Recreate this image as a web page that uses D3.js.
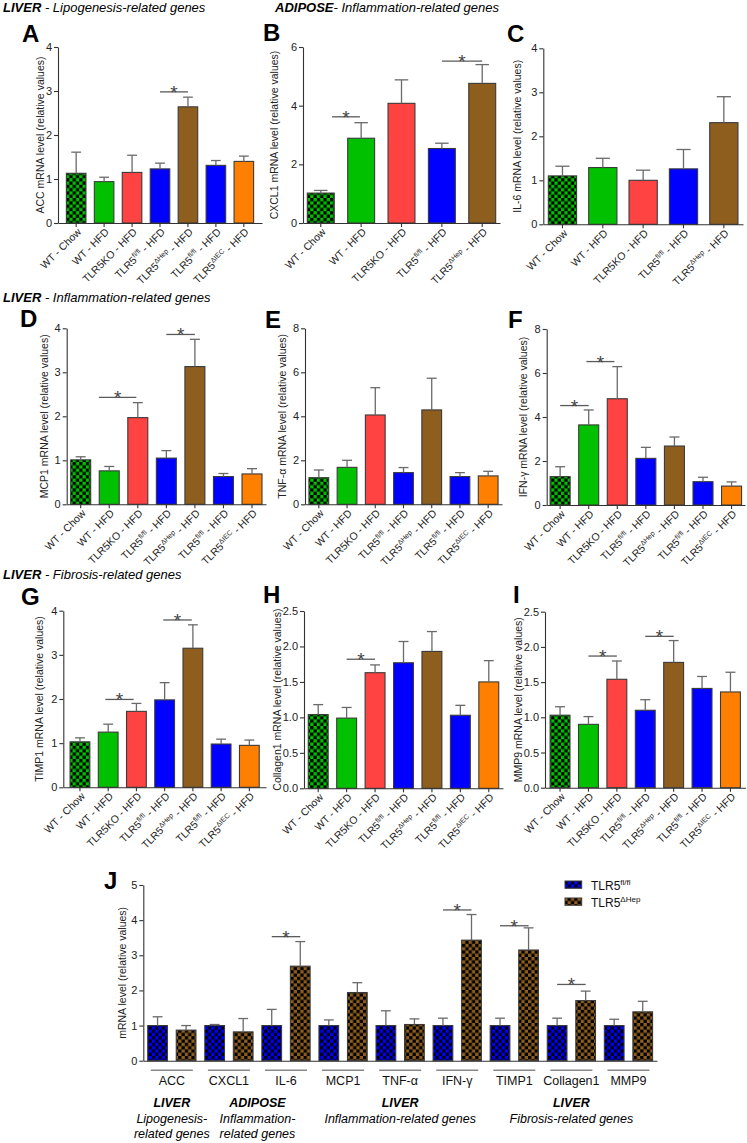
<!DOCTYPE html>
<html><head><meta charset="utf-8">
<script src="https://cdn.jsdelivr.net/npm/d3@7"></script>
<style>body{margin:0;background:#fff}svg{display:block}text{font-family:"Liberation Sans",Arial,Helvetica,sans-serif}</style>
</head><body><svg id="c" width="747" height="1143"></svg>
<script>
// ---------------- DATA ----------------
const groupKeys = ["wtChow","wtHfd","ko","flfl","dHep","flfl2","dIEC"];
const groupMain = ["WT - Chow","WT - HFD","TLR5KO - HFD","TLR5","TLR5","TLR5","TLR5"];
const groupSup  = ["","","","fl/fl","\u0394Hep","fl/fl","\u0394IEC"];
const groupTail = ["","",""," - HFD"," - HFD"," - HFD"," - HFD"];

const accMean = [1.13,0.94,1.15,1.23,2.64,1.31,1.40];
const accSem  = [0.48,0.10,0.39,0.13,0.22,0.11,0.12];
const accSig  = [[3,4,2.98]];

const cxclMean = [1.02,2.89,4.08,2.54,4.76];
const cxclSem  = [0.09,0.53,0.80,0.18,0.64];
const cxclSig  = [[0.28,0.97,3.62],[3,4,5.52]];

const il6Mean = [1.10,1.29,1.00,1.26,2.31];
const il6Sem  = [0.22,0.21,0.23,0.44,0.59];
const il6Sig  = [];

const mcp1Mean = [1.01,0.76,1.97,1.05,3.13,0.63,0.69];
const mcp1Sem  = [0.07,0.10,0.34,0.17,0.62,0.07,0.12];
const mcp1Sig  = [[0.64,1.95,2.43],[3,4,3.86]];

const tnfMean = [1.21,1.68,4.06,1.44,4.29,1.26,1.29];
const tnfSem  = [0.35,0.32,1.24,0.23,1.44,0.18,0.21];
const tnfSig  = [];

const ifnMean = [1.29,3.64,4.83,2.12,2.68,1.06,0.86];
const ifnSem  = [0.45,0.68,1.46,0.50,0.41,0.20,0.19];
const ifnSig  = [[0,1,4.52],[0.92,1.9,6.52]];

const timpMean = [1.03,1.25,1.72,1.98,3.15,0.98,0.95];
const timpSem  = [0.09,0.18,0.18,0.39,0.53,0.11,0.12];
const timpSig  = [[0.9,1.9,1.99],[2.95,3.96,3.79]];

const colMean = [1.04,0.99,1.63,1.77,1.93,1.03,1.50];
const colSem  = [0.14,0.15,0.11,0.30,0.28,0.14,0.30];
const colSig  = [[1,2,1.82]];

const mmpMean = [1.03,0.90,1.54,1.10,1.78,1.41,1.36];
const mmpSem  = [0.12,0.11,0.26,0.15,0.31,0.17,0.28];
const mmpSig  = [[1,2,1.87],[3,4,2.15]];

const genes   = ["ACC","CXCL1","IL-6","MCP1","TNF-\u03b1","IFN-\u03b3","TIMP1","Collagen1","MMP9"];
const flMean  = [1,1,1,1,1,1,1,1,1];
const flSem   = [0.25,0.03,0.46,0.16,0.42,0.21,0.21,0.21,0.18];
const hepMean = [0.87,0.82,2.69,1.94,1.03,3.43,3.15,1.71,1.39];
const hepSem  = [0.13,0.38,0.70,0.28,0.16,0.73,0.63,0.27,0.30];
const jSig    = [[2,3.53],[5,4.29],[6,3.84],[7,2.17]];
const tissueGroups = [
  {from:0,to:0,lines:["LIVER","Lipogenesis-","related genes"]},
  {from:1,to:2,lines:["ADIPOSE","Inflammation-","related genes"]},
  {from:3,to:5,lines:["LIVER","Inflammation-related genes"]},
  {from:6,to:8,lines:["LIVER","Fibrosis-related genes"]}
];

// ---------------- STYLES ----------------
const fills = {wtChow:"url(#chkGreen)",wtHfd:"#00c000",ko:"#ff4242",flfl:"#0000ff",dHep:"#8e5e1f",flfl2:"#0000ff",dIEC:"#ff8000"};
const svg = d3.select("#c");
const defs = svg.append("defs");
function checker(id,color){
  const s=3.3;
  const p=defs.append("pattern").attr("id",id).attr("patternUnits","userSpaceOnUse").attr("width",2*s).attr("height",2*s);
  p.append("rect").attr("width",2*s).attr("height",2*s).attr("fill",color);
  p.append("rect").attr("width",s).attr("height",s).attr("fill","#000");
  p.append("rect").attr("x",s).attr("y",s).attr("width",s).attr("height",s).attr("fill","#000");
}
checker("chkGreen","#00c000");
checker("chkBlue","#0000ff");
checker("chkBrown","#8e5e1f");

const AX="#333", ERR="#6a6a6a", SIG="#5a5a5a";

// ---------------- LAYOUT ----------------
const layout = {
  A:{x0:58,x1:262,top:47,bottom:223,pi:0.3,po:0.3,ylx:40,lx:22,ly:42},
  B:{x0:303,x1:500,top:47,bottom:223,pi:0.333,po:0.107,ylx:274,lx:263,ly:41},
  C:{x0:543.3,x1:743,top:48.3,bottom:224.3,pi:0.3,po:0.125,ylx:517,lx:507,ly:42},
  D:{x0:66.7,x1:266,top:328.3,bottom:504.3,pi:0.3,po:0.14,ylx:43.5,lx:20,ly:327},
  E:{x0:305,x1:502,top:328.3,bottom:504.3,pi:0.3,po:0.14,ylx:282,lx:265,ly:328},
  F:{x0:546.7,x1:745,top:329,bottom:505,pi:0.3,po:0.12,ylx:523,lx:508,ly:328},
  G:{x0:63.3,x1:266,top:610.7,bottom:787.3,pi:0.3,po:0.24,ylx:38.5,lx:21,ly:605},
  H:{x0:304,x1:503,top:611,bottom:788.3,pi:0.3,po:0.15,ylx:277,lx:263,ly:603},
  I:{x0:545,x1:745.5,top:611.7,bottom:787.7,pi:0.3,po:0.18,ylx:518,lx:513,ly:603},
  J:{x0:143.3,x1:657,top:885,bottom:1060.7,ylx:121.7,lx:104,ly:889}
};

function styleAxis(g,fs){
  g.attr("font-family",null).attr("font-size",null);
  g.select(".domain").attr("stroke",AX).attr("stroke-width",1.1);
  g.selectAll(".tick line").attr("stroke",AX).attr("stroke-width",1.1);
  g.selectAll(".tick text").attr("fill","#222").style("font-size",fs+"px");
}
function supText(sel,main,sup,tail,fs,sfs){
  sel.append("tspan").text(main);
  if(sup){
    sel.append("tspan").attr("dy",-fs*0.38).style("font-size",sfs+"px").text(sup);
    sel.append("tspan").attr("dy",fs*0.38).text(tail);
  } else if(tail){ sel.append("tspan").text(tail); }
}
function star(g,x,yy){
  g.append("text").attr("x",x).attr("y",yy+7).attr("text-anchor","middle").attr("fill","#444").style("font-size","19px").text("*");
}

function barPanel(letter,n,mean,sem,sig,yMax,ticks,fmt,ylab){
  const L=layout[letter];
  const keys=groupKeys.slice(0,n);
  const x=d3.scaleBand().domain(keys).range([L.x0,L.x1]).paddingInner(L.pi).paddingOuter(L.po);
  const y=d3.scaleLinear().domain([0,yMax]).range([L.bottom,L.top]);
  const bw=x.bandwidth();
  const cx=k=>x(k)+bw/2;
  const g=svg.append("g");
  g.selectAll("rect.bar").data(keys).join("rect")
    .attr("x",k=>x(k)).attr("y",(k,i)=>y(mean[i])).attr("width",bw)
    .attr("height",(k,i)=>y(0)-y(mean[i])).attr("fill",k=>fills[k])
    .attr("stroke","#3a3a3a").attr("stroke-width",1.1);
  const eb=g.selectAll("g.err").data(keys).join("g");
  eb.append("line").attr("x1",cx).attr("x2",cx).attr("y1",(k,i)=>y(mean[i])).attr("y2",(k,i)=>y(mean[i]+sem[i])).attr("stroke",ERR).attr("stroke-width",1.3);
  eb.append("line").attr("x1",k=>cx(k)-bw/4).attr("x2",k=>cx(k)+bw/4).attr("y1",(k,i)=>y(mean[i]+sem[i])).attr("y2",(k,i)=>y(mean[i]+sem[i])).attr("stroke",ERR).attr("stroke-width",1.3);
  const ya=d3.axisLeft(y).tickValues(ticks).tickSize(4).tickSizeOuter(0).tickPadding(2).tickFormat(fmt);
  styleAxis(g.append("g").attr("transform",`translate(${L.x0},0)`).call(ya),11);
  const xa=d3.axisBottom(x).tickSize(4).tickSizeOuter(0).tickFormat("");
  styleAxis(g.append("g").attr("transform",`translate(0,${L.bottom})`).call(xa),10);
  keys.forEach((k,i)=>{
    const t=g.append("text").attr("transform",`translate(${cx(k)+3},${L.bottom+7}) rotate(-45)`)
      .attr("text-anchor","end").attr("dy","0.35em").attr("fill","#222").style("font-size","10.5px");
    supText(t,groupMain[i],groupSup[i],groupTail[i],10.5,7);
  });
  const pos=f=>cx(keys[0])+f*x.step();
  sig.forEach(s=>{
    const yy=y(s[2]);
    g.append("line").attr("x1",pos(s[0])).attr("x2",pos(s[1])).attr("y1",yy).attr("y2",yy).attr("stroke",SIG).attr("stroke-width",1.3);
    star(g,(pos(s[0])+pos(s[1]))/2,yy);
  });
  g.append("text").attr("transform",`translate(${L.ylx},${(L.top+L.bottom)/2}) rotate(-90)`)
    .attr("text-anchor","middle").attr("dominant-baseline","central").attr("fill","#222").style("font-size","10.5px").text(ylab);
  g.append("text").attr("x",L.lx).attr("y",L.ly).attr("fill","#000").style("font-size","24px").style("font-weight","bold").text(letter);
}

const f0=d3.format("d"), f1=d3.format(".1f");
barPanel("A",7,accMean,accSem,accSig,4,[0,1,2,3,4],f0,"ACC mRNA level (relative values)");
barPanel("B",5,cxclMean,cxclSem,cxclSig,6,[0,2,4,6],f0,"CXCL1 mRNA level (relative values)");
barPanel("C",5,il6Mean,il6Sem,il6Sig,4,[0,1,2,3,4],f0,"IL-6 mRNA level (relative values)");
barPanel("D",7,mcp1Mean,mcp1Sem,mcp1Sig,4,[0,1,2,3,4],f0,"MCP1 mRNA level (relative values)");
barPanel("E",7,tnfMean,tnfSem,tnfSig,8,[0,2,4,6,8],f0,"TNF-\u03b1 mRNA level (relative values)");
barPanel("F",7,ifnMean,ifnSem,ifnSig,8,[0,2,4,6,8],f0,"IFN-\u03b3 mRNA level (relative values)");
barPanel("G",7,timpMean,timpSem,timpSig,4,[0,1,2,3,4],f0,"TIMP1 mRNA level (relative values)");
barPanel("H",7,colMean,colSem,colSig,2.5,[0,0.5,1,1.5,2,2.5],f1,"Collagen1 mRNA level (relative values)");
barPanel("I",7,mmpMean,mmpSem,mmpSig,2.5,[0,0.5,1,1.5,2,2.5],f1,"MMP9 mRNA level (relative values)");

// section titles
function title(x,y,bold,rest){
  const t=svg.append("text").attr("x",x).attr("y",y).attr("fill","#000").style("font-size","13px").style("font-style","italic");
  t.append("tspan").style("font-weight","bold").text(bold);
  t.append("tspan").text(rest);
}
title(3,12,"LIVER"," - Lipogenesis-related genes");
title(275,12,"ADIPOSE","- Inflammation-related genes");
title(3,302,"LIVER"," - Inflammation-related genes");
title(3,579,"LIVER"," - Fibrosis-related genes");

// ---------------- PANEL J ----------------
(function(){
  const L=layout.J;
  const x=d3.scaleBand().domain(genes).range([L.x0,L.x1]).padding(0);
  const xs=d3.scaleBand().domain(["fl","hep"]).range([0,x.bandwidth()]).paddingInner(0.31).paddingOuter(0.155);
  const y=d3.scaleLinear().domain([0,5]).range([L.bottom,L.top]);
  const bw=xs.bandwidth();
  const g=svg.append("g");
  const series=[{k:"fl",mean:flMean,sem:flSem,fill:"url(#chkBlue)"},{k:"hep",mean:hepMean,sem:hepSem,fill:"url(#chkBrown)"}];
  const cx=(gn,k)=>x(gn)+xs(k)+bw/2;
  series.forEach(s=>{
    g.selectAll(null).data(genes).join("rect").attr("x",gn=>x(gn)+xs(s.k)).attr("y",(gn,i)=>y(s.mean[i]))
      .attr("width",bw).attr("height",(gn,i)=>y(0)-y(s.mean[i])).attr("fill",s.fill).attr("stroke","#3a3a3a").attr("stroke-width",1.1);
    g.selectAll(null).data(genes).join("line").attr("x1",gn=>cx(gn,s.k)).attr("x2",gn=>cx(gn,s.k))
      .attr("y1",(gn,i)=>y(s.mean[i])).attr("y2",(gn,i)=>y(s.mean[i]+s.sem[i])).attr("stroke",ERR).attr("stroke-width",1.3);
    g.selectAll(null).data(genes).join("line").attr("x1",gn=>cx(gn,s.k)-bw/4).attr("x2",gn=>cx(gn,s.k)+bw/4)
      .attr("y1",(gn,i)=>y(s.mean[i]+s.sem[i])).attr("y2",(gn,i)=>y(s.mean[i]+s.sem[i])).attr("stroke",ERR).attr("stroke-width",1.3);
  });
  styleAxis(g.append("g").attr("transform",`translate(${L.x0},0)`).call(d3.axisLeft(y).tickValues([0,1,2,3,4,5]).tickSize(4).tickSizeOuter(0).tickPadding(2).tickFormat(d3.format("d"))),11);
  styleAxis(g.append("g").attr("transform",`translate(0,${L.bottom})`).call(d3.axisBottom(x).tickValues([]).tickSizeOuter(0)),10);
  genes.forEach(gn=>{
    const c=x(gn)+x.bandwidth()/2;
    g.append("line").attr("x1",c-21).attr("x2",c+21).attr("y1",L.bottom+9.5).attr("y2",L.bottom+9.5).attr("stroke","#888").attr("stroke-width",1.5);
    g.append("text").attr("x",c).attr("y",L.bottom+24.5).attr("text-anchor","middle").attr("fill","#111").style("font-size","12.5px").text(gn);
  });
  tissueGroups.forEach(tg=>{
    const c=(x(genes[tg.from])+x(genes[tg.to])+x.bandwidth())/2;
    tg.lines.forEach((ln,j)=>{
      g.append("text").attr("x",c).attr("y",L.bottom+46.5+j*15.5).attr("text-anchor","middle").attr("fill","#000")
        .style("font-size","12.5px").style("font-style","italic").style("font-weight",j===0?"bold":"normal").text(ln);
    });
  });
  jSig.forEach(s=>{
    const gn=genes[s[0]], a=cx(gn,"fl"), b=cx(gn,"hep"), yy=y(s[1]);
    g.append("line").attr("x1",a).attr("x2",b).attr("y1",yy).attr("y2",yy).attr("stroke",SIG).attr("stroke-width",1.3);
    star(g,(a+b)/2,yy);
  });
  g.append("text").attr("transform",`translate(${L.ylx},${(L.top+L.bottom)/2}) rotate(-90)`)
    .attr("text-anchor","middle").attr("dominant-baseline","central").attr("fill","#222").style("font-size","10.5px").text("mRNA level (relative values)");
  g.append("text").attr("x",L.lx).attr("y",L.ly).attr("fill","#000").style("font-size","24px").style("font-weight","bold").text("J");
  // legend
  const leg=[{fill:"url(#chkBlue)",sup:"fl/fl"},{fill:"url(#chkBrown)",sup:"\u0394Hep"}];
  leg.forEach((d,i)=>{
    const yy=881+i*17;
    g.append("rect").attr("x",565).attr("y",yy).attr("width",16.7).attr("height",7.3).attr("fill",d.fill).attr("stroke","#3a3a3a").attr("stroke-width",1);
    const t=g.append("text").attr("x",591).attr("y",yy+9).attr("fill","#111").style("font-size","12px");
    supText(t,"TLR5",d.sup,"",12,8);
  });
})();
</script></body></html>
